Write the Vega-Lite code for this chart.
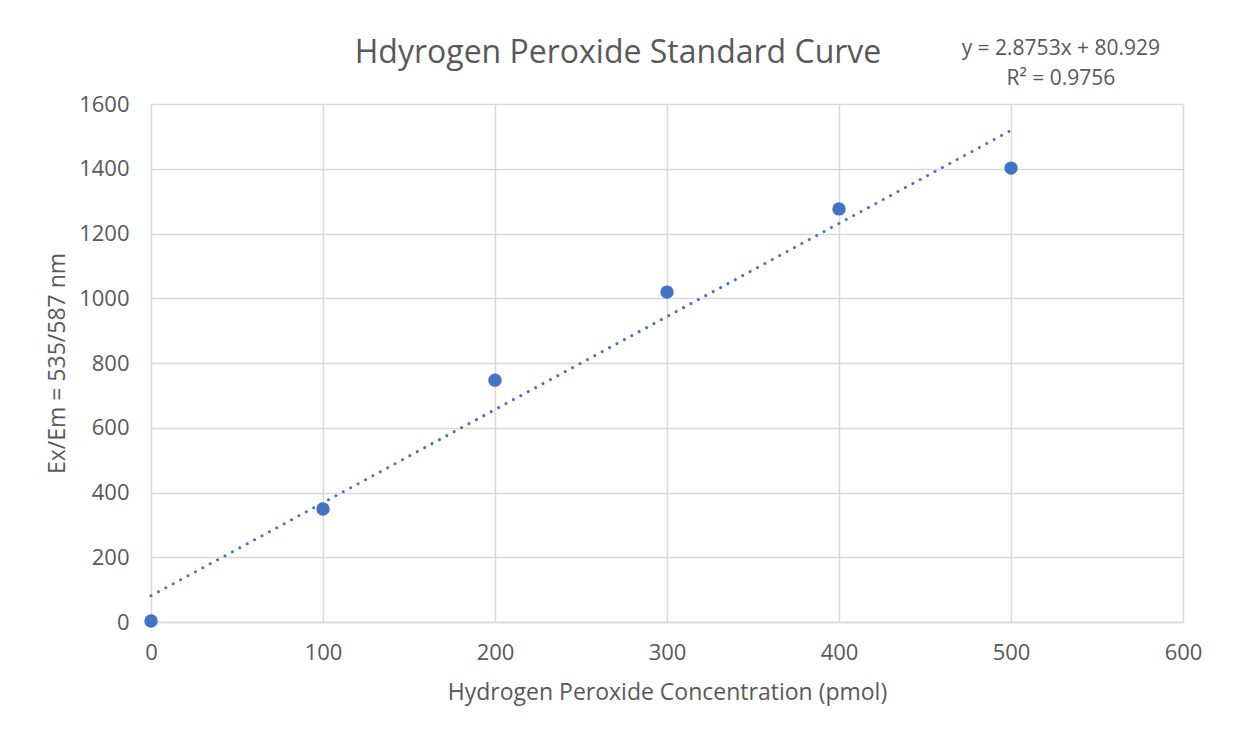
{
  "$schema": "https://vega.github.io/schema/vega-lite/v6.json",
  "width": 1032,
  "height": 518,
  "autosize": {"type": "none"},
  "padding": {"left": 151, "top": 104, "right": 54, "bottom": 113},
  "background": "white",
  "config": {
    "font": "Open Sans",
    "view": {"stroke": null},
    "axis": {
      "gridColor": "#d9d9d9",
      "gridWidth": 1.5,
      "domainColor": "#d9d9d9",
      "domainWidth": 1.5,
      "ticks": false,
      "labelColor": "#595959",
      "labelFontSize": 22,
      "labelFont": "Open Sans",
      "labelFlush": false,
      "format": "d",
      "titleColor": "#595959",
      "titleFont": "Open Sans",
      "titleFontSize": 23,
      "titleFontWeight": "normal"
    }
  },
  "title": {
    "text": "Hdyrogen Peroxide Standard Curve",
    "font": "Open Sans",
    "fontSize": 32,
    "fontWeight": "normal",
    "color": "#595959",
    "anchor": "middle",
    "dx": -49,
    "baseline": "bottom",
    "offset": -64
  },
  "datasets": {
    "points": [
      {"conc": 0, "signal": 3},
      {"conc": 100, "signal": 349},
      {"conc": 200, "signal": 747},
      {"conc": 300, "signal": 1019},
      {"conc": 400, "signal": 1276},
      {"conc": 500, "signal": 1402}
    ],
    "trend": [
      {"conc": 0, "signal": 80.929},
      {"conc": 500, "signal": 1518.579}
    ],
    "eq": [
      {"conc": 529, "signal": 1770, "label": "y = 2.8753x + 80.929"},
      {"conc": 529, "signal": 1677, "label": "R² = 0.9756"}
    ]
  },
  "layer": [
    {
      "data": {"name": "points"},
      "mark": {"type": "point", "filled": true, "shape": "circle", "size": 180, "color": "#4472C4", "opacity": 1},
      "encoding": {
        "x": {
          "field": "conc", "type": "quantitative",
          "scale": {"domain": [0, 600], "nice": false},
          "axis": {"values": [0, 100, 200, 300, 400, 500, 600], "labelPadding": 20, "title": "Hydrogen Peroxide Concentration (pmol)", "titlePadding": 18, "domain": true}
        },
        "y": {
          "field": "signal", "type": "quantitative",
          "scale": {"domain": [0, 1600], "nice": false},
          "axis": {"values": [0, 200, 400, 600, 800, 1000, 1200, 1400, 1600], "labelPadding": 22, "title": "Ex/Em = 535/587 nm", "titlePadding": 9, "domain": false}
        }
      }
    },
    {
      "data": {"name": "trend"},
      "mark": {"type": "line", "color": "#4472C4", "strokeWidth": 3, "strokeDash": [0.01, 8.4], "strokeCap": "round"},
      "encoding": {
        "x": {"field": "conc", "type": "quantitative"},
        "y": {"field": "signal", "type": "quantitative"}
      }
    },
    {
      "data": {"name": "eq"},
      "mark": {"type": "text", "clip": false, "font": "Open Sans", "fontSize": 21, "color": "#595959", "align": "center", "baseline": "middle"},
      "encoding": {
        "x": {"field": "conc", "type": "quantitative"},
        "y": {"field": "signal", "type": "quantitative"},
        "text": {"field": "label"}
      }
    }
  ]
}
